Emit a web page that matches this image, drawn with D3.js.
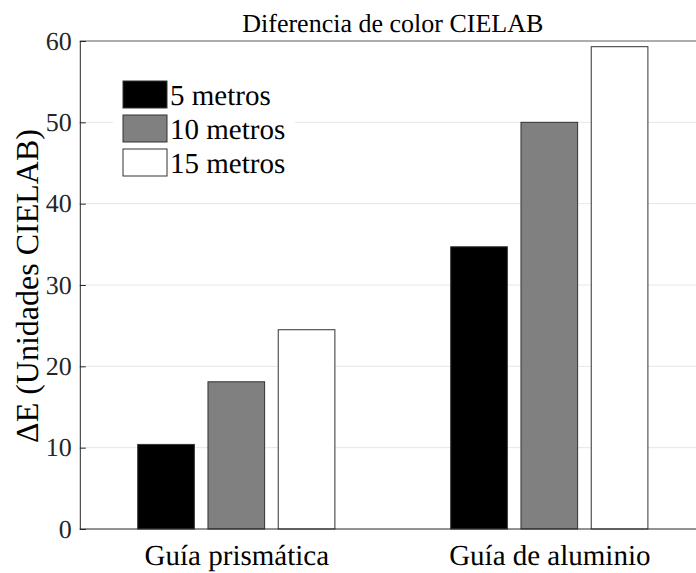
<!DOCTYPE html>
<html><head><meta charset="utf-8">
<script src="https://cdn.jsdelivr.net/npm/d3@7"></script>
<style>body{margin:0;background:#fff}svg{display:block}text{text-rendering:geometricPrecision}</style>
</head><body><svg id="c" width="696" height="573"></svg>
<script>
const categories = ["Guía prismática", "Guía de aluminio"];
const seriesNames = ["5 metros", "10 metros", "15 metros"];
const seriesColors = ["#000000", "#808080", "#ffffff"];
const values5 = [10.4, 34.7];
const values10 = [18.1, 50.0];
const values15 = [24.5, 59.3];
const yTicks = [0, 10, 20, 30, 40, 50, 60];
const title = "Diferencia de color CIELAB";
const yLabel = "ΔE (Unidades CIELAB)";

const FONT = '"Liberation Serif","Times New Roman",serif';
const series = [values5, values10, values15];
const svg = d3.select("#c");
const m = {l: 79.8, t: 41, r: 705.8, b: 529};
const x = d3.scaleLinear().domain([0.5, 2.5]).range([m.l, m.r]);
const y = d3.scaleLinear().domain([0, 60]).range([m.b, m.t]);

// gridlines
svg.append("g").selectAll("line").data(yTicks.filter(d => d > 0 && d < 60)).join("line")
  .attr("x1", m.l).attr("x2", m.r).attr("y1", d => y(d)).attr("y2", d => y(d))
  .attr("stroke", "#e6e6e6").attr("stroke-width", 1);

// bars
const offsets = [-1, 0, 1];
const unit = (x(1) - x(0));
series.forEach((vals, si) => {
  svg.append("g").selectAll("rect").data(vals).join("rect")
    .attr("x", (d, i) => x(i + 1 + offsets[si] * 0.2245) - 0.0905 * unit)
    .attr("width", 0.181 * unit)
    .attr("y", d => y(d)).attr("height", d => y(0) - y(d))
    .attr("fill", seriesColors[si]).attr("stroke", "#333").attr("stroke-width", 1);
});

// axes box
svg.append("line").attr("x1", m.l).attr("x2", m.r).attr("y1", m.t).attr("y2", m.t).attr("stroke", "#5a5a5a").attr("stroke-width", 1);
svg.append("line").attr("x1", m.l).attr("x2", m.r).attr("y1", m.b).attr("y2", m.b).attr("stroke", "#262626").attr("stroke-width", 1);

const yAxis = d3.axisLeft(y).tickValues(yTicks).tickSize(-6).tickPadding(8).tickFormat(d3.format("d"));
const ga = svg.append("g").attr("transform", `translate(${m.l},0)`).call(yAxis);
ga.select(".domain").attr("stroke", "#262626");
ga.selectAll(".tick line").attr("stroke", "#262626");
ga.selectAll("text").style("font-size", "26px").style("font-family", FONT).style("fill", "#262626");

const xAxis = d3.axisBottom(x).tickValues([1, 2]).tickSize(0).tickPadding(0).tickFormat(d => categories[d - 1]);
const gx = svg.append("g").attr("transform", `translate(0,${m.b})`).call(xAxis);
gx.select(".domain").remove();
gx.selectAll("text").attr("dy", null).attr("y", 36).style("font-size", "29px").style("font-family", FONT).style("fill", "#000");

// title
svg.append("text").attr("x", (m.l + m.r) / 2).attr("y", 32).attr("text-anchor", "middle")
  .style("font-size", "26px").style("font-family", FONT).style("fill", "#000").text(title);

// y label
svg.append("text").attr("transform", `translate(38,${(m.t + m.b) / 2 + 1}) rotate(-90)`)
  .attr("text-anchor", "middle").style("font-size", "32px").style("font-family", FONT).style("fill", "#000").text(yLabel);

// legend
const lg = svg.append("g");
lg.append("rect").attr("x", 113).attr("y", 70).attr("width", 182).attr("height", 114).attr("fill", "#fff");
seriesNames.forEach((n, i) => {
  const yy = 81 + i * 34;
  lg.append("rect").attr("x", 123).attr("y", yy).attr("width", 44).attr("height", 27)
    .attr("fill", seriesColors[i]).attr("stroke", "#333").attr("stroke-width", 1);
  lg.append("text").attr("x", 170).attr("y", yy + 24).style("font-size", "29px").style("font-family", FONT).style("fill", "#000").text(n);
});
</script></body></html>
